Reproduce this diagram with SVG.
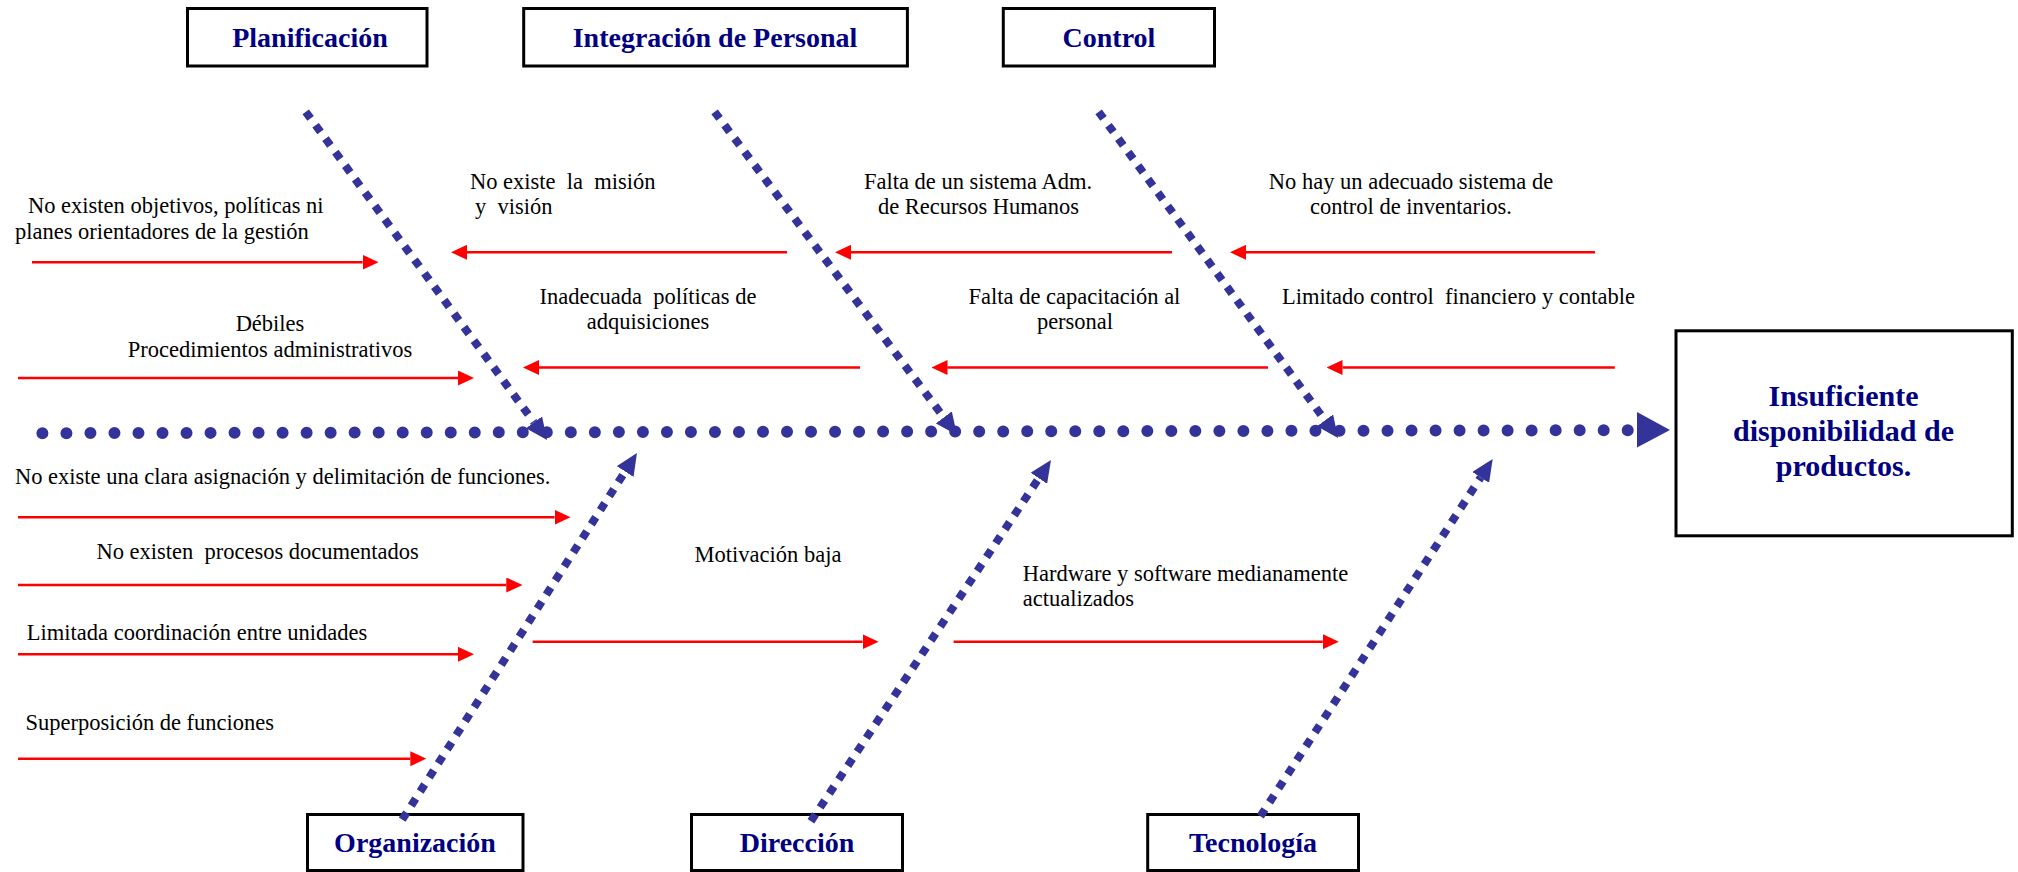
<svg xmlns="http://www.w3.org/2000/svg" width="2018" height="872" viewBox="0 0 2018 872">
  <style>
    .box { fill: #ffffff; stroke: #000000; stroke-width: 3; }
    .title { font-family: "Liberation Serif", "Times New Roman", serif; font-weight: bold; font-size: 28px; fill: #000080; text-anchor: middle; }
    .effect { font-family: "Liberation Serif", "Times New Roman", serif; font-weight: bold; font-size: 30px; fill: #000080; text-anchor: middle; }
    .cause { font-family: "Liberation Serif", "Times New Roman", serif; font-size: 22.5px; fill: #000000; white-space: pre; }
    .mid { text-anchor: middle; }
    .bone { fill: none; stroke: #333399; stroke-width: 8; stroke-dasharray: 8.3 8.4; marker-end: url(#boneHead); }
    .spine { fill: none; stroke: #333399; stroke-width: 12; stroke-linecap: round; stroke-dasharray: 0 24.02; }
    .cause-arrow { fill: none; stroke: #ff0000; stroke-width: 2.6; marker-end: url(#redHead); }
  </style>
  <defs>
    <marker id="boneHead" markerUnits="userSpaceOnUse" viewBox="0 0 22 20" markerWidth="22" markerHeight="20" refX="0" refY="10" orient="auto">
      <path d="M0,0 L22,10 L0,20 Z" fill="#333399"/>
    </marker>
    <marker id="redHead" markerUnits="userSpaceOnUse" viewBox="0 0 16 15" markerWidth="16" markerHeight="15" refX="0" refY="7.5" orient="auto">
      <path d="M0,0 L16,7.5 L0,15 Z" fill="#ff0000"/>
    </marker>
  </defs>

  <rect x="0" y="0" width="2018" height="872" fill="#ffffff"/>

  <!-- category boxes -->
  <g id="planificacion">
    <rect class="box" x="187.5" y="8.5" width="239.5" height="57.5"/>
    <text class="title" x="310" y="47">Planificación</text>
  </g>
  <g id="integracion-personal">
    <rect class="box" x="523.7" y="8.5" width="383.7" height="57.5"/>
    <text class="title" x="715" y="47">Integración de Personal</text>
  </g>
  <g id="control">
    <rect class="box" x="1003.3" y="8.5" width="211.2" height="57.5"/>
    <text class="title" x="1109" y="47">Control</text>
  </g>
  <g id="organizacion">
    <rect class="box" x="307.5" y="814.5" width="215.5" height="56"/>
    <text class="title" x="415" y="852">Organización</text>
  </g>
  <g id="direccion">
    <rect class="box" x="691.5" y="814.5" width="211" height="56"/>
    <text class="title" x="797" y="852">Dirección</text>
  </g>
  <g id="tecnologia">
    <rect class="box" x="1147.7" y="814.5" width="210.8" height="56"/>
    <text class="title" x="1253" y="852">Tecnología</text>
  </g>

  <!-- effect -->
  <g id="efecto">
    <rect class="box" x="1676" y="330.8" width="336.3" height="205"/>
    <text class="effect" x="1843.5" y="406">Insuficiente</text>
    <text class="effect" x="1843.5" y="441">disponibilidad de</text>
    <text class="effect" x="1843.5" y="476">productos.</text>
  </g>

  <!-- cause labels -->
  <g id="causa-objetivos">
    <text class="cause" x="28" y="213">No existen objetivos, políticas ni</text>
    <text class="cause" x="15" y="238.5">planes orientadores de la gestión</text>
  </g>
  <g id="causa-mision">
    <text class="cause" x="470" y="189" xml:space="preserve">No existe  la  misión</text>
    <text class="cause" x="475" y="214" xml:space="preserve">y  visión</text>
  </g>
  <g id="causa-rrhh">
    <text class="cause mid" x="978" y="189">Falta de un sistema Adm.</text>
    <text class="cause mid" x="978.5" y="214">de Recursos Humanos</text>
  </g>
  <g id="causa-inventarios">
    <text class="cause mid" x="1411" y="189">No hay un adecuado sistema de</text>
    <text class="cause mid" x="1411" y="214">control de inventarios.</text>
  </g>
  <g id="causa-procedimientos">
    <text class="cause mid" x="270" y="330.7">Débiles</text>
    <text class="cause mid" x="270" y="356.7">Procedimientos administrativos</text>
  </g>
  <g id="causa-adquisiciones">
    <text class="cause mid" x="648" y="304" xml:space="preserve">Inadecuada  políticas de</text>
    <text class="cause mid" x="648" y="329">adquisiciones</text>
  </g>
  <g id="causa-capacitacion">
    <text class="cause mid" x="1074.5" y="304">Falta de capacitación al</text>
    <text class="cause mid" x="1075" y="329">personal</text>
  </g>
  <g id="causa-financiero">
    <text class="cause" x="1282" y="304" xml:space="preserve">Limitado control  financiero y contable</text>
  </g>
  <g id="causa-funciones">
    <text class="cause" x="15" y="484">No existe una clara asignación y delimitación de funciones.</text>
  </g>
  <g id="causa-procesos">
    <text class="cause" x="96.4" y="559.3" xml:space="preserve">No existen  procesos documentados</text>
  </g>
  <g id="causa-coordinacion">
    <text class="cause" x="26.8" y="640">Limitada coordinación entre unidades</text>
  </g>
  <g id="causa-superposicion">
    <text class="cause" x="25.4" y="730">Superposición de funciones</text>
  </g>
  <g id="causa-motivacion">
    <text class="cause" x="694.6" y="561.7">Motivación baja</text>
  </g>
  <g id="causa-hardware">
    <text class="cause" x="1022.8" y="581">Hardware y software medianamente</text>
    <text class="cause" x="1022.8" y="606">actualizados</text>
  </g>

  <!-- connectors: spine, category bones, cause arrows -->
  <g id="connectors">
    <line class="spine" x1="42.4" y1="433.2" x2="1629" y2="430.2"/>
    <polygon points="1637,412 1670,430 1637,447.5" fill="#333399"/>

    <line class="bone" x1="305.7" y1="111.8" x2="534" y2="422.3"/>
    <line class="bone" x1="714.6" y1="111.8" x2="943.8" y2="417.4"/>
    <line class="bone" x1="1098.6" y1="111.8" x2="1325" y2="420.3"/>
    <line class="bone" x1="402.2" y1="819.6" x2="625.1" y2="471.5"/>
    <line class="bone" x1="810.9" y1="821.3" x2="1038.8" y2="478.3"/>
    <line class="bone" x1="1260.4" y1="816.3" x2="1480.7" y2="477.4"/>

    <line class="cause-arrow" x1="32" y1="262.3" x2="362.6" y2="262.3"/>
    <line class="cause-arrow" x1="787" y1="252.3" x2="467" y2="252.3"/>
    <line class="cause-arrow" x1="1172" y1="252.3" x2="851" y2="252.3"/>
    <line class="cause-arrow" x1="1595" y1="252.3" x2="1246" y2="252.3"/>
    <line class="cause-arrow" x1="18" y1="378" x2="458" y2="378"/>
    <line class="cause-arrow" x1="860" y1="367.5" x2="539" y2="367.5"/>
    <line class="cause-arrow" x1="1268" y1="367.5" x2="947.5" y2="367.5"/>
    <line class="cause-arrow" x1="1614.8" y1="367.5" x2="1342.5" y2="367.5"/>
    <line class="cause-arrow" x1="18" y1="517.3" x2="554.5" y2="517.3"/>
    <line class="cause-arrow" x1="18" y1="585" x2="506.3" y2="585"/>
    <line class="cause-arrow" x1="18" y1="654.3" x2="458" y2="654.3"/>
    <line class="cause-arrow" x1="18" y1="758.7" x2="410.3" y2="758.7"/>
    <line class="cause-arrow" x1="532.6" y1="641.7" x2="862.6" y2="641.7"/>
    <line class="cause-arrow" x1="953.6" y1="641.7" x2="1322.8" y2="641.7"/>
  </g>
</svg>
